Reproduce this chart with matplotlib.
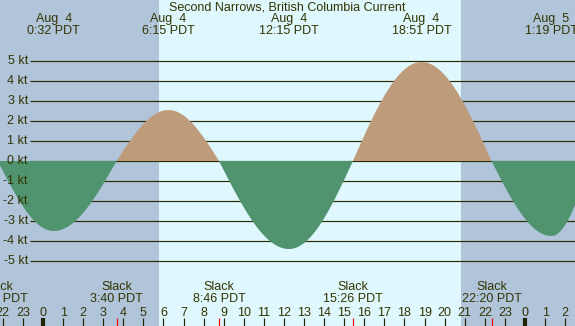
import numpy as np
import matplotlib
matplotlib.use("Agg")
import matplotlib.pyplot as plt
from matplotlib.transforms import blended_transform_factory

plt.rcParams['font.family'] = ['Liberation Sans', 'DejaVu Sans']

# ---- data (hours from midnight Aug 4, PDT) ----
title = "Second Narrows, British Columbia Current"
event_times = [-2.25, 0.533, 3.667, 6.25, 8.767, 12.25, 15.433, 18.85, 22.333, 25.317, 27.27]
event_speeds = [0.0, -3.5, 0.0, 2.55, 0.0, -4.4, 0.0, 4.95, 0.0, -3.75, 0.0]
max_times = [0.533, 6.25, 12.25, 18.85, 25.317]
max_labels = ["Aug  4\n0:32 PDT", "Aug  4\n6:15 PDT", "Aug  4\n12:15 PDT",
              "Aug  4\n18:51 PDT", "Aug  5\n1:19 PDT"]
slack_times = [-2.25, 3.667, 8.767, 15.433, 22.333]
slack_labels = ["Slack\n21:45 PDT", "Slack\n3:40 PDT", "Slack\n8:46 PDT",
                "Slack\n15:26 PDT", "Slack\n22:20 PDT"]
sunrise = [5.78]
sunset = [20.82]
kt_levels = [5, 4, 3, 2, 1, 0, -1, -2, -3, -4, -5]
hour_ticks = list(range(-2, 27))

# ---- style ----
W, H = 575, 326
night_c = '#b0c4da'
day_c = '#dff7ff'
flood_c = '#be9c7b'
ebb_c = '#4f946f'
text_c = '#333300'
xmin, xmax = -2.14, 26.49
ymin, ymax = -8.25, 8.05

fig = plt.figure(figsize=(W / 100, H / 100), dpi=100)
fig.patch.set_facecolor(day_c)
ax = fig.add_axes([0, 0, 1, 1])
ax.set_xlim(xmin, xmax)
ax.set_ylim(ymin, ymax)
ax.axis('off')
ax.set_facecolor(day_c)

# day/night background
ax.axvspan(xmin - 5, sunrise[0], color=night_c, zorder=0, lw=0)
ax.axvspan(sunset[0], xmax + 5, color=night_c, zorder=0, lw=0)

# horizontal grid lines
x_grid_start = -0.65
for k in kt_levels:
    ax.plot([x_grid_start, xmax + 1], [k, k], color='#2b2b00', lw=0.85, zorder=1,
            solid_capstyle='butt')
    ax.text(x_grid_start - 0.1, k, f"{k} kt", ha='right', va='center',
            fontsize=9, color=text_c, zorder=4)

# current curve through events (quarter-sine rendering between slack and extreme)
ts, vs = [], []
for i in range(len(event_times) - 1):
    t0, t1 = event_times[i], event_times[i + 1]
    v0, v1 = event_speeds[i], event_speeds[i + 1]
    tt = np.linspace(t0, t1, 150, endpoint=False)
    frac = (tt - t0) / (t1 - t0)
    if v0 == 0:
        vv = v1 * np.sin(np.pi / 2 * frac)
    else:
        vv = v0 * np.cos(np.pi / 2 * frac)
    ts.append(tt)
    vs.append(vv)
t = np.concatenate(ts + [np.array([event_times[-1]])])
v = np.concatenate(vs + [np.array([event_speeds[-1]])])
ax.fill_between(t, v, 0, where=v >= 0, color=flood_c, lw=0, zorder=2, interpolate=True)
ax.fill_between(t, v, 0, where=v <= 0, color=ebb_c, lw=0, zorder=2, interpolate=True)

# text layout using pixel y positions
trans = blended_transform_factory(ax.transData, ax.transAxes)
def py(p):
    return 1 - p / H

ax.text(0.5, py(8), title, transform=ax.transAxes, ha='center', va='center',
        fontsize=9, color=text_c)
for tm, lab in zip(max_times, max_labels):
    ax.text(tm, py(25), lab, transform=trans, ha='center', va='center',
            fontsize=9, color=text_c, linespacing=0.95)
for tm, lab in zip(slack_times, slack_labels):
    ax.text(tm, py(293), lab, transform=trans, ha='center', va='center',
            fontsize=9, color=text_c, linespacing=0.95)

# hour ticks and labels
for h in hour_ticks:
    ax.text(h, py(313), str(h % 24), transform=trans, ha='center', va='center',
            fontsize=9, color=text_c)
    lw = 3 if h % 24 == 0 else 0.85
    ax.plot([h, h], [py(318), py(327)], transform=trans, color='#222200',
            lw=lw, solid_capstyle='butt', zorder=3)
for tm in slack_times:
    ax.plot([tm, tm], [py(318), py(327)], transform=trans, color='red',
            lw=0.85, solid_capstyle='butt', zorder=3)

fig.savefig('out.png', dpi=100, facecolor=fig.get_facecolor())
